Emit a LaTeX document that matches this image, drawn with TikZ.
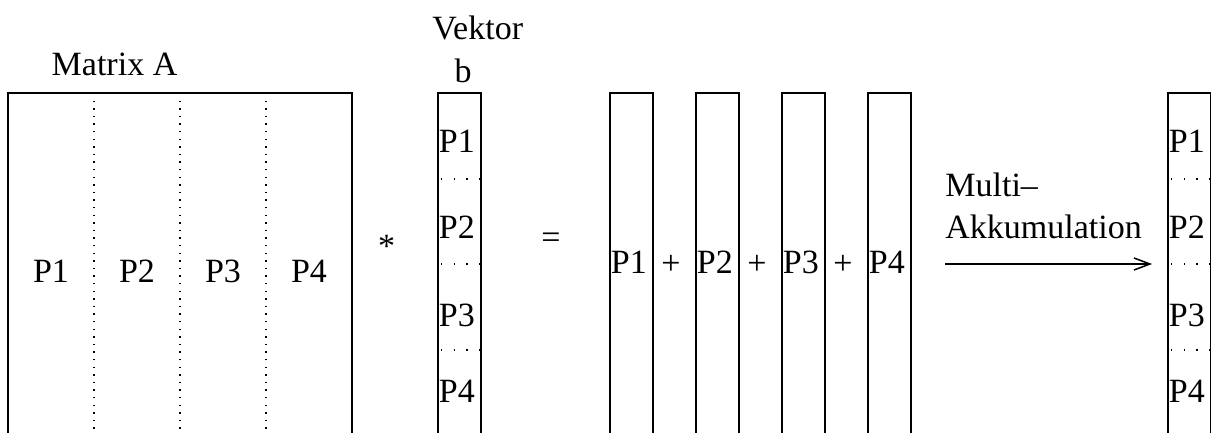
\documentclass[tikz,border=0pt]{standalone}
\usepackage{fontspec}
\setmainfont{Liberation Serif}
\usetikzlibrary{arrows.meta}
\begin{document}
\begin{tikzpicture}[x=0.5pt,y=-0.5pt,
  box/.style={draw, line width=0.8pt, inner sep=0pt, outer sep=0pt, anchor=north west, minimum height=180pt},
  wide/.style={box, minimum width=172pt},
  thin/.style={box, minimum width=21.5pt},
  vdots/.style={line width=0.7pt, dash pattern=on 0.7pt off 3.1pt},
  hdots/.style={line width=0.7pt, dash pattern=on 0.7pt off 5.6pt},
  lbl/.style={inner sep=0pt, font=\fontsize{17}{20}\selectfont},
  lblw/.style={lbl, anchor=base west},
  lblc/.style={lbl, anchor=base},
  arr/.style={line width=0.75pt, -{Straight Barb[length=8pt,width=6.5pt,line width=0.75pt,round=false]}}
]
\useasboundingbox (0,0) rectangle (1211,433);
\clip (0,0) rectangle (1211,433);

% Matrix A
\node[lblc] (tA) at (114.5,76) {Matrix A};
\node[wide] (A) at (8,93) {};
\draw[vdots] (A.north west) ++(86,0) coordinate (d1t) -- (d1t |- A.south);
\draw[vdots] (A.north west) ++(172,0) coordinate (d2t) -- (d2t |- A.south);
\draw[vdots] (A.north west) ++(258,0) coordinate (d3t) -- (d3t |- A.south);
\node[lblc] (a1) at (51,282) {P1};
\node[lblc] (a2) at (137,282) {P2};
\node[lblc] (a3) at (223,282) {P3};
\node[lblc] (a4) at (309,282) {P4};

\node[lblc] (mul) at (386.5,257) {*};

% Vektor b
\node[lblw] (tb1) at (432,40) {Vektor};
\node[lblc] (tb2) at (463,83) {b};
\node[thin] (B) at (438,93) {};
\foreach \yy in {179,264,350}{
  \draw[hdots] (441,\yy) -- (480,\yy);
}
\node[lblw] (b1) at (438.5,153) {P1};
\node[lblw] (b2) at (438.5,238) {P2};
\node[lblw] (b3) at (438.5,326) {P3};
\node[lblw] (b4) at (438.5,402) {P4};

\node[lblc] (eq) at (551,249) {=};

% Summanden
\node[thin] (S1) at (610,93) {};
\node[thin] (S2) at (696,93) {};
\node[thin] (S3) at (782,93) {};
\node[thin] (S4) at (868,93) {};
\node[lblw] (s1) at (610.5,273) {P1};
\node[lblw] (s2) at (696.5,273) {P2};
\node[lblw] (s3) at (782.5,273) {P3};
\node[lblw] (s4) at (868.5,273) {P4};
\node[lblc] (p1) at (671,274) {+};
\node[lblc] (p2) at (757,274) {+};
\node[lblc] (p3) at (843,274) {+};

% Multi-Akkumulation
\node[lblw] (m1) at (945,197) {Multi–};
\node[lblw] (m2) at (945,238) {Akkumulation};
\coordinate (arrS) at (945,264);
\coordinate (arrE) at (1150,264);
\draw[line width=0.75pt] (arrS) -- (arrE);
\draw[line width=0.75pt] ([shift={(-16,-6)}]arrE) -- (arrE) -- ([shift={(-16,6)}]arrE);

% Ergebnisvektor
\node[thin] (R) at (1168,93) {};
\foreach \yy in {179,264,350}{
  \draw[hdots] (1171,\yy) -- (1211,\yy);
}
\node[lblw] (r1) at (1168.5,153) {P1};
\node[lblw] (r2) at (1168.5,238) {P2};
\node[lblw] (r3) at (1168.5,326) {P3};
\node[lblw] (r4) at (1168.5,402) {P4};
\end{tikzpicture}
\end{document}
